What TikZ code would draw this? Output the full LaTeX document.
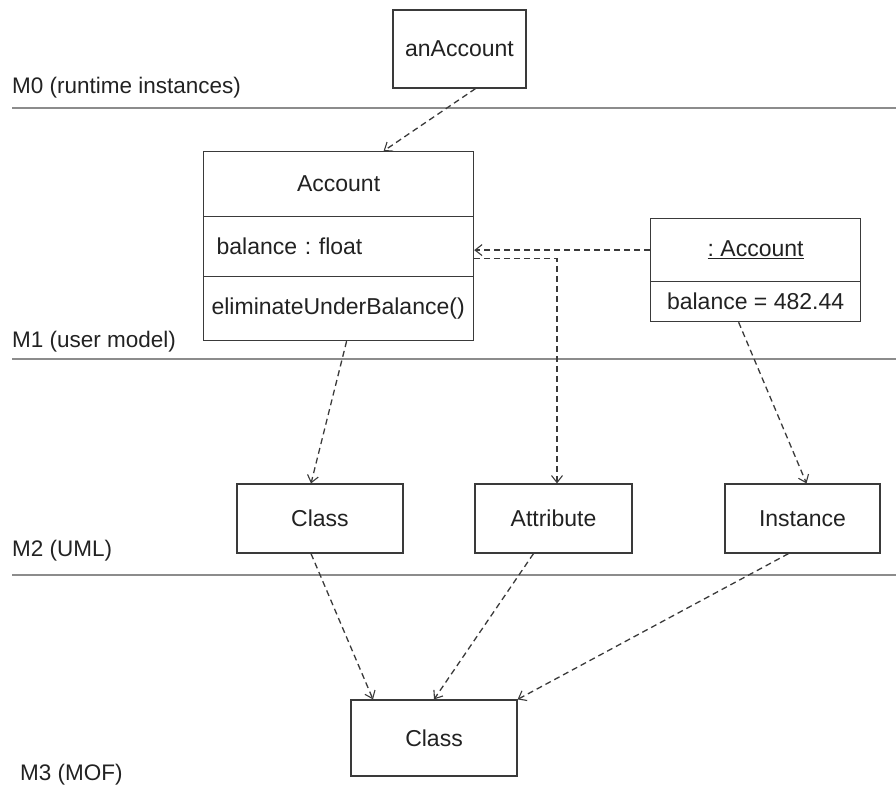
\documentclass[tikz,border=0pt]{standalone}
\usepackage{fontspec}
\setmainfont{Liberation Sans}
\frenchspacing
\usetikzlibrary{arrows.meta}
\definecolor{linegray}{HTML}{3A3A3A}
\definecolor{layergray}{HTML}{8C8C8C}
\definecolor{textgray}{HTML}{222222}
\tikzset{
  box/.style={draw=linegray, line width=1.2pt, fill=white, text=textgray,
    inner sep=0pt, font=\fontsize{23}{27}\selectfont},
  dep/.style={draw=linegray, line width=1.3pt, dash pattern=on 6pt off 4pt,
    -{Straight Barb[length=7pt,width=11pt,line width=1.1pt]}},
  layer/.style={draw=layergray, line width=1.6pt},
  layername/.style={anchor=west, inner sep=0pt, text=textgray,
    font=\fontsize{22.5}{27}\selectfont}
}
\begin{document}
\begin{tikzpicture}[x=1pt, y=-1pt]
  \useasboundingbox (0,0) rectangle (896,796);
  % Ebenen
  \draw[layer] (12,108) -- (896,108);
  \draw[layer] (12,359) -- (896,359);
  \draw[layer] (12,575) -- (896,575);
  \node[layername] (m0) at (12,88) {M0 (runtime instances)};
  \node[layername] (m1) at (12,342) {M1 (user model)};
  \node[layername] (m2) at (12,551) {M2 (UML)};
  \node[layername] (m3) at (20,775) {M3 (MOF)};
  % M0
  \node[box, minimum width=133pt, minimum height=78pt] (anacc) at (459.5,49) {anAccount};
  % M1: Klasse Account
  \node[box, anchor=north west, minimum width=270pt, minimum height=65pt] (accname) at (203,151) {Account};
  \node[box, anchor=north west, minimum width=270pt, minimum height=60pt, text width=244pt, align=left] (accattr) at (203,216) {balance : float};
  \node[box, anchor=north west, minimum width=270pt, minimum height=64pt, text width=254pt, align=left] (accop) at (203,276) {eliminateUnderBalance()};
  % M1: Instanz
  \node[box, anchor=north west, minimum width=210pt, minimum height=63pt] (instname) at (650,218) {\underline{: Account}};
  \node[box, anchor=north west, minimum width=210pt, minimum height=40pt] (instval) at (650,281) {balance = 482.44};
  % M2
  \node[box, minimum width=166pt, minimum height=69pt] (class) at (320,518.5) {Class};
  \node[box, minimum width=157pt, minimum height=69pt] (attr) at (553.5,518.5) {Attribute};
  \node[box, minimum width=155pt, minimum height=69pt] (inst) at (802.5,518.5) {Instance};
  % M3
  \node[box, minimum width=166pt, minimum height=76pt] (mofclass) at (434,738) {Class};
  % Abhaengigkeiten
  \draw[dep] ([xshift=16pt]anacc.south) -- ([xshift=45pt]accname.north);
  \draw[dep] (instname.west) -- (instname.west -| accattr.east);
  \draw[dep] ([yshift=-12pt]accattr.east) -| ([xshift=3.5pt]attr.north);
  \draw[dep] ([xshift=8pt]accop.south) -- ([xshift=-9pt]class.north);
  \draw[dep] ([xshift=-17pt]instval.south) -- ([xshift=4pt]inst.north);
  \draw[dep] ([xshift=-9pt]class.south) -- ([xshift=-61pt]mofclass.north);
  \draw[dep] ([xshift=-20pt]attr.south) -- (mofclass.north);
  \draw[dep] ([xshift=-14pt]inst.south) -- (mofclass.north east);
\end{tikzpicture}
\end{document}
